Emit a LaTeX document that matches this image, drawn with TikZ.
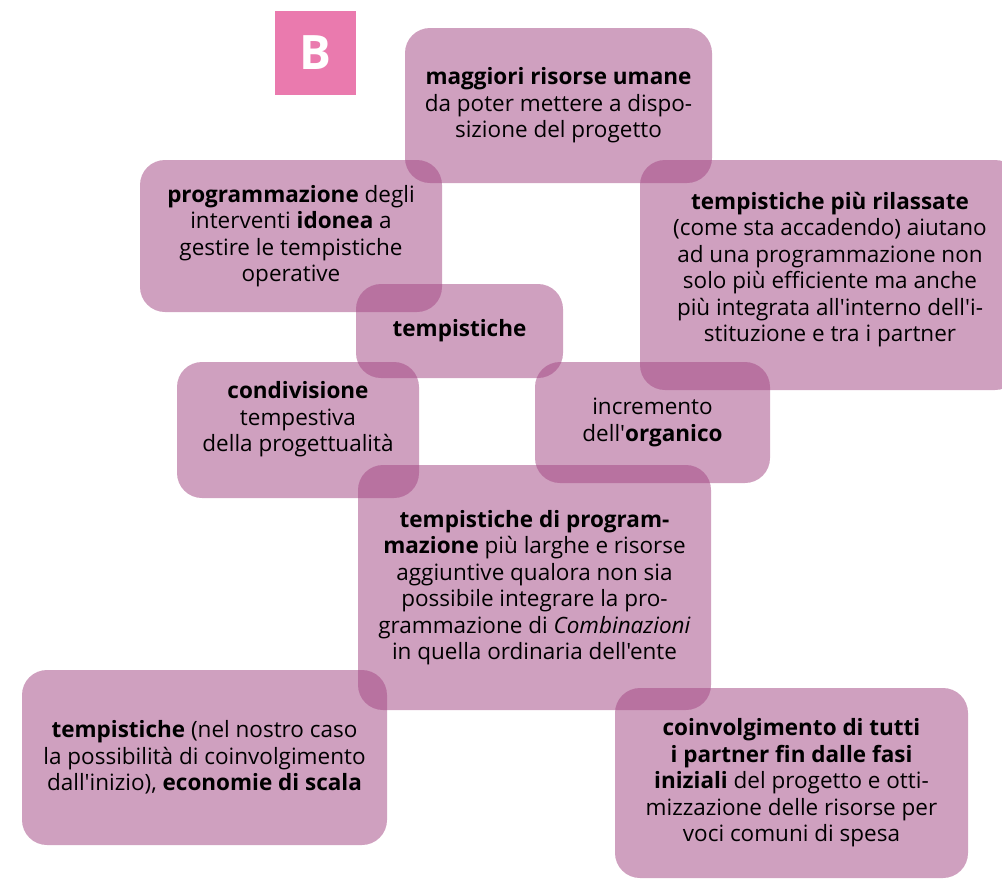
\documentclass[tikz,border=0pt]{standalone}
\usepackage{fontspec}
\setmainfont{Open Sans}[Ligatures=TeXOff]
\usetikzlibrary{positioning}
\definecolor{mauve}{RGB}{163,72,132}
\definecolor{pinkB}{RGB}{234,122,174}

\begin{document}
\begin{tikzpicture}[x=0.02cm,y=-0.02cm,font=\fontsize{12.8}{15.1}\selectfont,
	box/.style 2 args={rectangle,rounded corners=0.5cm,fill=mauve,fill opacity=0.52,text opacity=1,
		align=center,inner sep=0pt,minimum width=#1*0.02cm,minimum height=#2*0.02cm}]
	\useasboundingbox (0,0) rectangle (1002,880);
	\clip (0,0) rectangle (1002,880);
	\node[fill=pinkB,minimum width=81*0.02cm,minimum height=84*0.02cm,inner sep=0pt,text=white,
		font=\fontsize{27}{27}\selectfont\bfseries] (B) at (315.5,53) {B};
	\node[box={307}{155}] (risorse) at (558.5,105.5)
		{\textbf{maggiori risorse umane}\\da poter mettere a dispo-\\sizione del progetto};
	\node[box={302}{152}] (programmazione) at (291,236)
		{\textbf{programmazione} degli\\interventi \textbf{idonea} a\\gestire le tempistiche\\operative};
	\node[box={380}{230}] (rilassate) at (830,275)
		{\textbf{tempistiche più rilassate}\\(come sta accadendo) aiutano\\ad una programmazione non\\solo più efficiente ma anche\\più integrata all'interno dell'i-\\stituzione e tra i partner\\[-6pt]\mbox{}};
	\node[box={207}{94}] (tempistiche) at (459.5,331) {\textbf{tempistiche}};
	\node[box={242}{136}] (condivisione) at (298,430)
		{\textbf{condivisione}\\tempestiva\\della progettualità\\\mbox{}};
	\node[box={235}{121}] (organico) at (652.5,422.5)
		{incremento\\dell'\textbf{organico}};
	\node[box={353}{245}] (larghe) at (534.5,587.5)
		{\textbf{tempistiche di program-}\\\textbf{mazione} più larghe e risorse\\aggiuntive qualora non sia\\possibile integrare la pro-\\grammazione di \textit{Combinazioni}\\in quella ordinaria dell'ente};
	\node[box={365}{175}] (scala) at (204.5,757.5)
		{\textbf{tempistiche} (nel nostro caso\\la possibilità di coinvolgimento\\dall'inizio), \textbf{economie di scala}};
	\node[box={353}{190}] (partner) at (791.5,783)
		{\textbf{coinvolgimento di tutti}\\\textbf{i partner fin dalle fasi}\\\textbf{iniziali} del progetto e otti-\\mizzazione delle risorse per\\voci comuni di spesa};
\end{tikzpicture}
\end{document}
